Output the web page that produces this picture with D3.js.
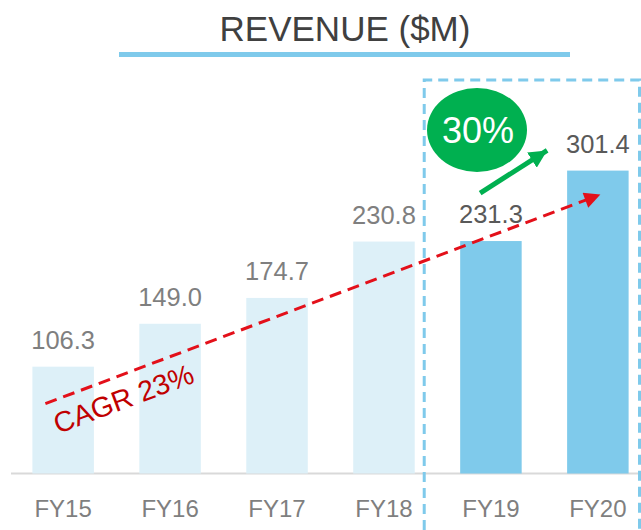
<!DOCTYPE html>
<html><head><meta charset="utf-8">
<script src="https://cdn.jsdelivr.net/npm/d3@7/dist/d3.min.js"></script>
<style>body{margin:0;background:#fff;}svg{display:block;font-family:"Liberation Sans",Arial,sans-serif;}</style>
</head><body>
<script>
const categories = ["FY15","FY16","FY17","FY18","FY19","FY20"];
const revenue = [106.3, 149.0, 174.7, 230.8, 231.3, 301.4];
const highlighted = [false,false,false,false,true,true];
const titleText = "REVENUE ($M)";
const growthLabel = "30%";
const cagrLabel = "CAGR 23%";

const W = 641, H = 530;
const svg = d3.select("body").append("svg").attr("width", W).attr("height", H);

const x = d3.scaleBand().domain(categories).range([11, 650]).paddingInner(0.425).paddingOuter(0.2);
const y = d3.scaleLinear().domain([0, 300]).range([473.5, 172]);

// axis line
svg.append("line").attr("x1", 11).attr("x2", W).attr("y1", 473.5).attr("y2", 473.5)
  .attr("stroke", "#d9d9d9").attr("stroke-width", 2);

// bars
svg.selectAll("rect.bar").data(categories).enter().append("rect")
  .attr("class","bar")
  .attr("x", d => x(d)).attr("width", x.bandwidth())
  .attr("y", (d,i) => y(revenue[i])).attr("height", (d,i) => y(0) - y(revenue[i]))
  .attr("fill", (d,i) => highlighted[i] ? "#7fcaeb" : "#ddf0f8");

// value labels
svg.selectAll("text.val").data(categories).enter().append("text")
  .attr("x", d => x(d) + x.bandwidth()/2)
  .attr("y", (d,i) => y(revenue[i]) - 18)
  .attr("text-anchor","middle").attr("font-size", 25.5)
  .attr("fill", (d,i) => highlighted[i] ? "#595959" : "#7f7f7f")
  .text((d,i) => revenue[i].toFixed(1));

// category labels
svg.selectAll("text.cat").data(categories).enter().append("text")
  .attr("x", d => x(d) + x.bandwidth()/2).attr("y", 517)
  .attr("text-anchor","middle").attr("font-size", 24).attr("fill", "#7f7f7f")
  .text(d => d);

// title
svg.append("text").attr("x", 345).attr("y", 41).attr("text-anchor","middle")
  .attr("font-size", 35).attr("fill", "#404040").text(titleText);
svg.append("rect").attr("x", 119).attr("y", 52).attr("width", 451).attr("height", 5).attr("fill", "#7fcaeb");

// dashed highlight box
const bx0 = x("FY18") + x.bandwidth() + 9.5;
svg.append("path")
  .attr("d", `M${bx0},${H} L${bx0},80 L639.5,80 L639.5,${H}`)
  .attr("fill","none").attr("stroke","#7fcaeb").attr("stroke-width",3).attr("stroke-dasharray","10,6");

// defs for arrowheads
const defs = svg.append("defs");
defs.append("marker").attr("id","redHead").attr("viewBox","0 0 10 10").attr("refX",10).attr("refY",5)
  .attr("markerUnits","userSpaceOnUse").attr("markerWidth",19).attr("markerHeight",16).attr("orient","auto")
  .append("path").attr("d","M0,0 L10,5 L0,10 Z").attr("fill","#e3101a");
defs.append("marker").attr("id","greenHead").attr("viewBox","0 0 10 10").attr("refX",10).attr("refY",5)
  .attr("markerUnits","userSpaceOnUse").attr("markerWidth",18).attr("markerHeight",18).attr("orient","auto")
  .append("path").attr("d","M0,0 L10,5 L0,10 Z").attr("fill","#00b050");

// red CAGR trend line
const rx1 = x("FY15") + 13, ry1 = y(69.5);
const rx2 = x("FY20") + x.bandwidth()/2 + 2.5, ry2 = y(277.5);
svg.append("line").attr("x1", rx1).attr("y1", ry1).attr("x2", rx2 - 12).attr("y2", ry2 + 4.5)
  .attr("stroke","#e3101a").attr("stroke-width",3).attr("stroke-dasharray","12,7");
svg.append("line").attr("x1", rx2 - 14).attr("y1", ry2 + 5.3).attr("x2", rx2).attr("y2", ry2)
  .attr("stroke","none").attr("marker-end","url(#redHead)");

const ang = Math.atan2(ry2 - ry1, rx2 - rx1) * 180 / Math.PI;
svg.append("text").attr("transform", `translate(58,434) rotate(${ang})`)
  .attr("font-size", 28.5).attr("fill", "#c00000").text(cagrLabel);

// green growth arrow
const gx1 = x("FY19") + 20, gy1 = y(279);
const gx2 = x("FY20") - 20, gy2 = y(321.5);
svg.append("line").attr("x1", gx1).attr("y1", gy1).attr("x2", gx2).attr("y2", gy2)
  .attr("stroke","#00b050").attr("stroke-width",5).attr("marker-end","url(#greenHead)");

// green ellipse
svg.append("ellipse").attr("cx", 477).attr("cy", 130).attr("rx", 50).attr("ry", 42).attr("fill","#00b050");
svg.append("text").attr("x", 478).attr("y", 143).attr("text-anchor","middle")
  .attr("font-size", 36).attr("fill","#fff").text(growthLabel);
</script>
</body></html>
